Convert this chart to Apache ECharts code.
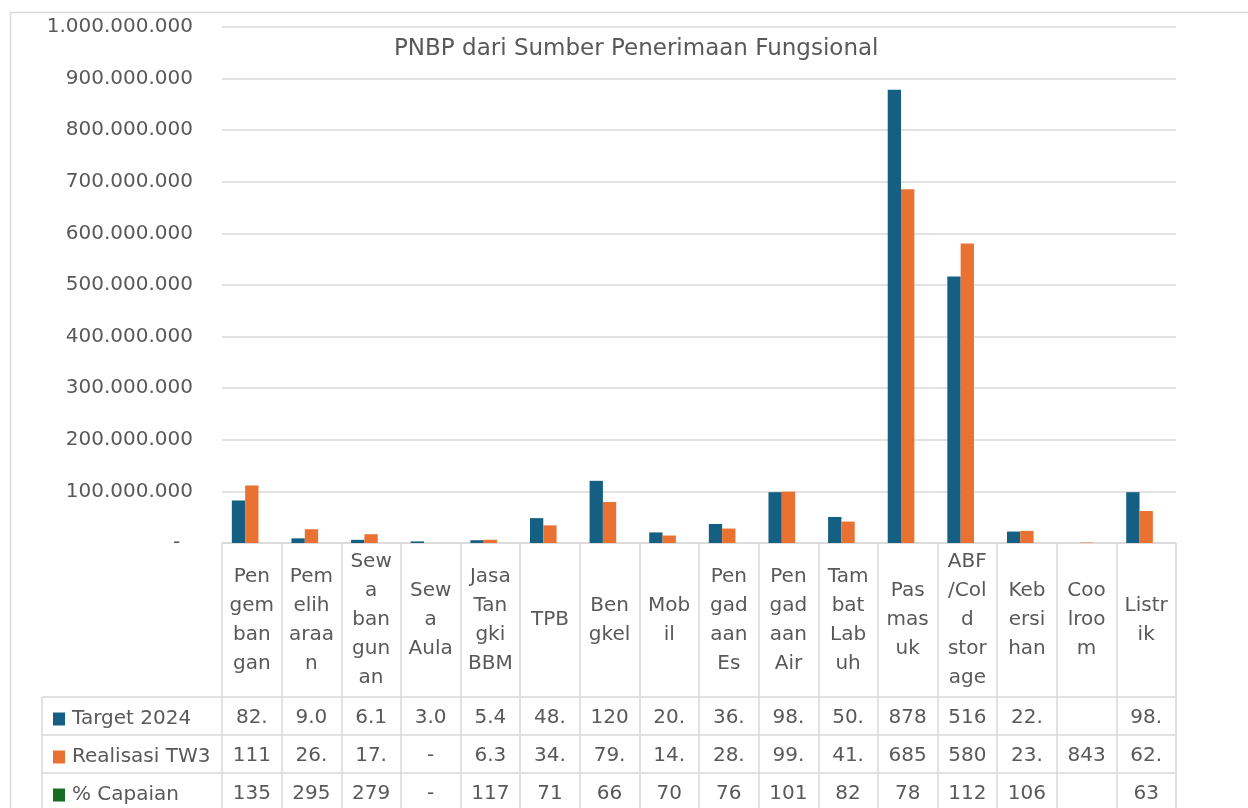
<!DOCTYPE html>
<html>
<head>
<meta charset="utf-8">
<script src="https://cdn.jsdelivr.net/npm/echarts@6/dist/echarts.min.js"></script>
<style>
html,body{margin:0;padding:0;background:#fff;}
#c{width:1248px;height:808px;}
</style>
</head>
<body>
<div id="c"></div>
<script>
// ---- data ----
const titleText = 'PNBP dari Sumber Penerimaan Fungsional';
const categories = ['Pen\ngem\nban\ngan', 'Pem\nelih\naraa\nn', 'Sew\na\nban\ngun\nan', 'Sew\na\nAula',
  'Jasa\nTan\ngki\nBBM', 'TPB', 'Ben\ngkel', 'Mob\nil', 'Pen\ngad\naan\nEs', 'Pen\ngad\naan\nAir',
  'Tam\nbat\nLab\nuh', 'Pas\nmas\nuk', 'ABF\n/Col\nd\nstor\nage', 'Keb\nersi\nhan', 'Coo\nlroo\nm', 'Listr\nik'];
const seriesNames = ['Target 2024', 'Realisasi TW3', '% Capaian'];
const target2024 = [82400000, 9050000, 6100000, 3050000, 5400000, 48200000, 120500000, 20500000,
  36800000, 98500000, 50500000, 878500000, 516500000, 22200000, null, 98500000];
const realisasiTW3 = [111500000, 26700000, 17000000, 0, 6300000, 34200000, 79500000, 14500000,
  28000000, 99500000, 41500000, 685500000, 580500000, 23500000, 843000, 62000000];
const capaian = [135, 295, 279, 0, 117, 71, 66, 70, 76, 101, 82, 78, 112, 106, null, 63];
const yTicks = {min: 0, max: 1000000000, interval: 100000000};

// ---- layout / style ----
const TXT = '#595959', LINE = '#d9d9d9', FONT = 'DejaVu Sans';
const G = {left: 222, right: 72, top: 27, bottom: 265};
const ROW_H = 38, ROW1_OFF = 154; // table rows below axis
const colors = ['#156082', '#E97132', '#196B24'];

function dotted(v) { return String(Math.round(v)).replace(/\B(?=(\d{3})+(?!\d))/g, '.'); }
function cell(v) {
  if (v === null || v === undefined) return '';
  if (v === 0) return '-';
  return dotted(v).slice(0, 3);
}
const rows = [target2024, realisasiTW3, capaian];

const chart = echarts.init(document.getElementById('c'), null, {renderer: 'canvas'});
const W = 1248, H = 808;
const axisY = H - G.bottom;

const tableAxes = rows.map((arr, i) => ({
  type: 'category', data: categories, position: 'bottom', gridIndex: 0,
  offset: ROW1_OFF + ROW_H * i + ROW_H / 2 + 2,
  axisLine: {show: false}, axisTick: {show: false},
  axisLabel: {
    interval: 0, margin: 0, verticalAlign: 'middle', color: TXT, fontFamily: FONT, fontSize: 20,
    formatter: (val, idx) => cell(arr[idx])
  }
}));

const legends = seriesNames.map((n, i) => ({
  orient: 'horizontal', padding: 0, left: 53, top: axisY + ROW1_OFF + ROW_H * i + ROW_H / 2 - 7,
  itemWidth: 12, itemHeight: 13, icon: 'rect', data: [n],
  textStyle: {color: TXT, fontFamily: FONT, fontSize: 20, padding: [0, 0, 0, 2]}
}));

const graphic = [
  {type: 'rect', silent: true, shape: {x: 10.5, y: 12.5, width: 1400, height: 1000},
   style: {fill: 'none', stroke: LINE, lineWidth: 1.5}},
  {type: 'line', silent: true, shape: {x1: 42, y1: axisY + ROW1_OFF, x2: 42, y2: H + 10},
   style: {stroke: LINE, lineWidth: 1.5}}
];
for (let i = 0; i < 3; i++) {
  const y = axisY + ROW1_OFF + ROW_H * i;
  graphic.push({type: 'line', silent: true, shape: {x1: 42, y1: y, x2: W - G.right, y2: y},
    style: {stroke: LINE, lineWidth: 1.5}});
}

chart.setOption({
  animation: false,
  backgroundColor: '#fff',
  color: colors,
  title: {text: titleText, left: 389, top: 33,
    textStyle: {color: TXT, fontFamily: FONT, fontSize: 23, fontWeight: 'normal'}},
  legend: legends,
  grid: G,
  xAxis: [{
    type: 'category', data: categories, position: 'bottom',
    axisLine: {show: true, lineStyle: {color: LINE, width: 1.5}},
    axisTick: {show: true, length: 280, lineStyle: {color: LINE, width: 1.5}},
    axisLabel: {interval: 0, margin: 77, verticalAlign: 'middle', lineHeight: 29,
      color: TXT, fontFamily: FONT, fontSize: 20}
  }].concat(tableAxes),
  yAxis: {
    type: 'value', min: yTicks.min, max: yTicks.max, interval: yTicks.interval,
    axisLine: {show: false}, axisTick: {show: false},
    splitLine: {lineStyle: {color: LINE, width: 1.5}},
    axisLabel: {margin: 29, color: TXT, fontFamily: FONT, fontSize: 20,
      formatter: v => v === 0 ? '-  ' : dotted(v)}
  },
  series: [
    {name: seriesNames[0], type: 'bar', data: target2024, barGap: '0%', barCategoryGap: '33%'},
    {name: seriesNames[1], type: 'bar', data: realisasiTW3, barGap: '0%', barCategoryGap: '33%'},
    {name: seriesNames[2], type: 'bar', data: capaian, barGap: '0%', barCategoryGap: '33%'}
  ],
  graphic: graphic
});
</script>
</body>
</html>
